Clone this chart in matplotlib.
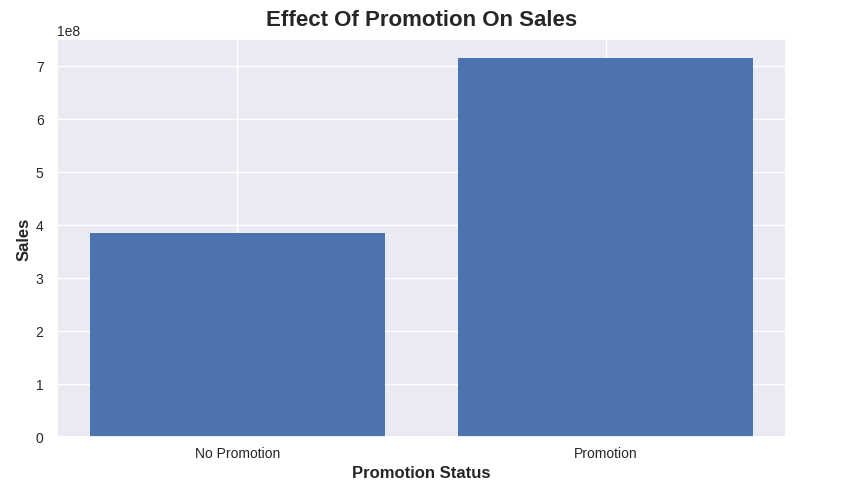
import matplotlib
matplotlib.use("Agg")
import matplotlib.pyplot as plt
import seaborn as sns

categories = ["No Promotion", "Promotion"]
sales = [3.843e8, 7.14e8]

sns.set_theme(style="darkgrid")
plt.rcParams['font.family'] = ['Liberation Sans', 'DejaVu Sans']

fig, ax = plt.subplots(figsize=(8.52, 4.89), dpi=100)
fig.subplots_adjust(left=0.0666, right=0.9225, top=0.9176, bottom=0.1049)
ax.bar(categories, sales, color="#4c72b0", linewidth=0)
ax.set_title("Effect Of Promotion On Sales", fontsize=16, fontweight="bold", pad=10.5)
ax.set_xlabel("Promotion Status", fontsize=12, fontweight="bold", labelpad=3)
ax.set_ylabel("Sales", fontsize=12, fontweight="bold", labelpad=3)
ax.tick_params(axis="both", labelsize=10)
ax.tick_params(axis="x", pad=1)
ax.yaxis.get_offset_text().set_fontsize(10)
fig.savefig("out.png", dpi=100)
